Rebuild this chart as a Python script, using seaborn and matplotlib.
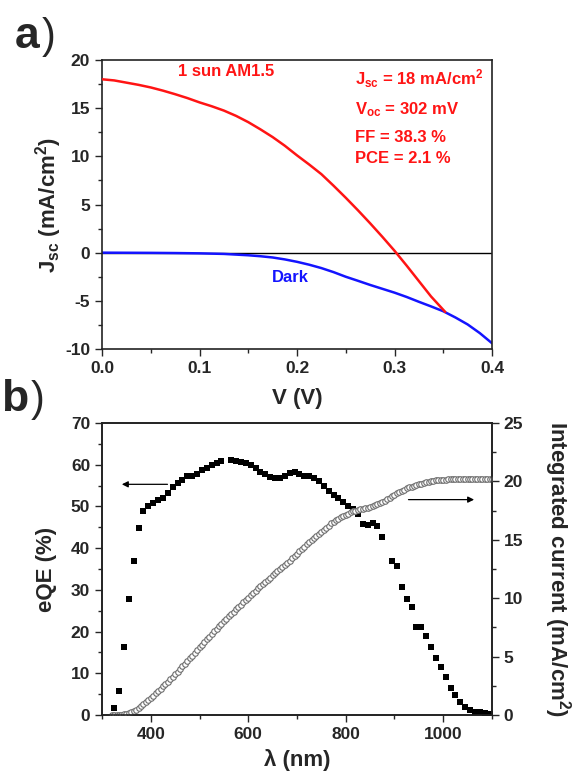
import numpy as np
import pandas as pd
import matplotlib
matplotlib.use("Agg")
import matplotlib.pyplot as plt
import seaborn as sns
from matplotlib.ticker import MultipleLocator, FormatStrFormatter

# ---------------- data ----------------
v_light = [0.0, 0.0125, 0.025, 0.0375, 0.05, 0.0625, 0.075, 0.0875, 0.1, 0.1125, 0.125, 0.1375,
           0.15, 0.1625, 0.175, 0.1875, 0.2, 0.2125, 0.225, 0.2375, 0.25, 0.2625, 0.275, 0.2875,
           0.3, 0.3125, 0.325, 0.3375, 0.352]
j_light = [18.0, 17.88, 17.65, 17.42, 17.15, 16.82, 16.45, 16.05, 15.6, 15.2, 14.75, 14.2,
           13.55, 12.8, 12.0, 11.1, 10.1, 9.15, 8.15, 6.95, 5.7, 4.4, 3.05, 1.65,
           0.2, -1.35, -2.95, -4.55, -6.15]

v_dark = [0.0, 0.025, 0.05, 0.075, 0.1, 0.125, 0.15, 0.1625, 0.175, 0.1875, 0.2, 0.2125, 0.225,
          0.2375, 0.25, 0.2625, 0.275, 0.2875, 0.3, 0.3125, 0.325, 0.3375, 0.35, 0.3625, 0.375,
          0.3875, 0.4]
j_dark = [0.0, -0.01, -0.02, -0.04, -0.07, -0.13, -0.27, -0.37, -0.5, -0.7, -0.95, -1.25, -1.6,
          -2.02, -2.5, -2.92, -3.35, -3.75, -4.15, -4.6, -5.1, -5.58, -6.08, -6.73, -7.45,
          -8.35, -9.4]

wl_eqe = [325, 335, 345, 355, 365, 375, 385, 395, 405, 415, 425, 435, 445, 455, 465, 475, 485, 495,
          505, 515, 525, 535, 545,
          565, 575, 585, 595, 605, 615, 625, 635, 645, 655, 665, 675, 685, 695, 705, 715, 725, 735,
          745, 755, 765, 775, 785, 795, 805, 815, 825, 835, 845, 855, 865, 875,
          895, 905, 915, 925, 935, 945, 955, 965, 975, 985, 995, 1005, 1015, 1025, 1035, 1045, 1055,
          1065, 1075, 1085, 1095]
eqe = [1.6, 5.7, 16.3, 27.9, 37.0, 44.9, 48.8, 50.2, 50.8, 51.6, 52.0, 53.1, 54.6, 55.6, 56.4, 57.2, 57.2, 57.7,
       58.7, 59.3, 60.0, 60.4, 60.8,
       61.1, 60.9, 60.7, 60.4, 59.9, 59.1, 58.3, 57.7, 57.0, 56.9, 56.9, 57.4, 58.0, 58.3, 57.8, 57.2, 57.2, 56.8,
       56.0, 55.0, 53.8, 52.8, 52.0, 51.0, 50.2, 49.4, 48.3, 45.7, 45.6, 46.1, 45.3, 42.7,
       36.8, 35.6, 30.8, 27.8, 25.9, 21.0, 21.0, 19.0, 16.4, 13.6, 11.6, 9.1, 6.5, 4.9, 3.2, 1.9, 1.2,
       0.8, 0.6, 0.4, 0.2]

wl_int = [320, 325, 330, 335, 340, 345, 350, 355, 360, 365, 370, 375, 380, 385, 390, 395,
          400, 405, 410, 415, 420, 425, 430, 435, 440, 445, 450, 455, 460, 465, 470, 475,
          480, 485, 490, 495, 500, 505, 510, 515, 520, 525, 530, 535, 540, 545, 550, 555,
          560, 565, 570, 575, 580, 585, 590, 595, 600, 605, 610, 615, 620, 625, 630, 635,
          640, 645, 650, 655, 660, 665, 670, 675, 680, 685, 690, 695, 700, 705, 710, 715,
          720, 725, 730, 735, 740, 745, 750, 755, 760, 765, 770, 775, 780, 785, 790, 795,
          800, 805, 810, 815, 820, 825, 830, 835, 840, 845, 850, 855, 860, 865, 870, 875,
          880, 885, 890, 895, 900, 905, 910, 915, 920, 925, 930, 935, 940, 945, 950, 955,
          960, 965, 970, 975, 980, 985, 990, 995, 1000, 1005, 1010, 1015, 1020, 1025, 1030, 1035,
          1040, 1045, 1050, 1055, 1060, 1065, 1070, 1075, 1080, 1085, 1090, 1095, 1100]
int_cur = [0.0, 0.0, 0.0, 0.01, 0.02, 0.05, 0.1, 0.17, 0.25, 0.34, 0.45, 0.6, 0.75, 0.92, 1.1, 1.27,
           1.45, 1.65, 1.85, 2.05, 2.25, 2.45, 2.65, 2.85, 3.05, 3.27, 3.5, 3.72, 3.95, 4.17, 4.4, 4.62,
           4.85, 5.07, 5.3, 5.55, 5.8, 6.02, 6.25, 6.47, 6.7, 6.92, 7.15, 7.37, 7.6, 7.82, 8.05, 8.25,
           8.45, 8.65, 8.85, 9.05, 9.25, 9.45, 9.65, 9.85, 10.05, 10.25, 10.45, 10.65, 10.85, 11.05, 11.25, 11.42,
           11.6, 11.77, 11.95, 12.12, 12.3, 12.47, 12.65, 12.82, 13.0, 13.2, 13.4, 13.6, 13.8, 14.0, 14.2, 14.4,
           14.6, 14.8, 15.0, 15.17, 15.35, 15.52, 15.7, 15.87, 16.05, 16.22, 16.4, 16.55, 16.7, 16.82, 16.95, 17.05,
           17.15, 17.25, 17.35, 17.43, 17.5, 17.55, 17.6, 17.65, 17.7, 17.75, 17.8, 17.87, 17.95, 18.05, 18.15, 18.25,
           18.35, 18.47, 18.6, 18.72, 18.85, 18.97, 19.1, 19.2, 19.3, 19.4, 19.5, 19.55, 19.6, 19.67, 19.75, 19.82,
           19.88, 19.93, 19.98, 20.02, 20.05, 20.08, 20.1, 20.12, 20.14, 20.16, 20.18, 20.19, 20.2, 20.2, 20.2, 20.2,
           20.2, 20.2, 20.2, 20.2, 20.2, 20.2, 20.2, 20.2, 20.2, 20.2, 20.2, 20.2, 20.2]

stats_lines = ["J$_{\\rm sc}$ = 18 mA/cm$^{\\rm 2}$", "V$_{\\rm oc}$ = 302 mV", "FF = 38.3 %", "PCE = 2.1 %"]
stats_y = [17.4, 14.4, 11.5, 9.3]

# ---------------- style ----------------
sns.set_style("ticks")
FONT = ["Liberation Sans", "DejaVu Sans"]
plt.rcParams["font.family"] = FONT
plt.rcParams["font.weight"] = "bold"
plt.rcParams["axes.labelweight"] = "bold"
plt.rcParams["mathtext.fontset"] = "custom"
plt.rcParams["mathtext.rm"] = "Liberation Sans:bold"
plt.rcParams["mathtext.bf"] = "Liberation Sans:bold"
plt.rcParams["mathtext.it"] = "Liberation Sans:bold"
plt.rcParams["axes.linewidth"] = 1.2
plt.rcParams["axes.edgecolor"] = "#222222"

RED = "#ff1414"
BLUE = "#1414ff"
TICK_FS = 12.5
LAB_FS = 16

fig = plt.figure(figsize=(5.75, 7.74), dpi=100)
W, H = 575, 774

def px_axes(l, t, r, b):
    return fig.add_axes([l / W, 1 - b / H, (r - l) / W, (b - t) / H])

def style_ticks(ax, left=True, right=False):
    ax.tick_params(which="both", direction="out", width=1.0, labelsize=TICK_FS,
                   top=False, right=right, left=left, labelleft=left, labelright=right)
    ax.tick_params(which="major", length=5)
    ax.tick_params(which="minor", length=3)
    for lab in ax.get_xticklabels() + ax.get_yticklabels():
        lab.set_fontweight("bold")

# ---------------- panel a ----------------
ax1 = px_axes(102, 60, 492, 349)
df_dark = pd.DataFrame({"V": v_dark, "J": j_dark})
df_light = pd.DataFrame({"V": v_light, "J": j_light})
ax1.axhline(0, color="black", lw=1.0, zorder=1)
sns.lineplot(data=df_dark, x="V", y="J", ax=ax1, color=BLUE, lw=1.8, sort=False, zorder=2)
sns.lineplot(data=df_light, x="V", y="J", ax=ax1, color=RED, lw=1.8, sort=False, zorder=3)
ax1.set_xlim(0, 0.4)
ax1.set_ylim(-10, 20)
ax1.xaxis.set_major_locator(MultipleLocator(0.1))
ax1.xaxis.set_minor_locator(MultipleLocator(0.05))
ax1.yaxis.set_major_locator(MultipleLocator(5))
ax1.yaxis.set_minor_locator(MultipleLocator(2.5))
ax1.xaxis.set_major_formatter(FormatStrFormatter("%.1f"))
ax1.yaxis.set_major_formatter(FormatStrFormatter("%d"))
style_ticks(ax1)
ax1.set_xlabel("V (V)", fontsize=LAB_FS, fontweight="bold", labelpad=9)
ax1.set_ylabel("J$_{\\rm sc}$ (mA/cm$^{\\rm 2}$)", fontsize=LAB_FS, fontweight="bold", labelpad=1)

ax1.text(0.127, 18.8, "1 sun AM1.5", color=RED, fontsize=12, fontweight="bold",
         ha="center", va="center")
ax1.text(0.193, -2.6, "Dark", color=BLUE, fontsize=12, fontweight="bold",
         ha="center", va="center")
for txt, yv in zip(stats_lines, stats_y):
    ax1.text(0.2595, yv, txt, color=RED, fontsize=12, fontweight="bold",
             ha="left", va="baseline")

# ---------------- panel b ----------------
ax2 = px_axes(102, 423, 492, 715)
df_eqe = pd.DataFrame({"wl": wl_eqe, "eqe": eqe})
df_int = pd.DataFrame({"wl": wl_int, "cur": int_cur})
sns.scatterplot(data=df_eqe, x="wl", y="eqe", ax=ax2, marker="s", color="black",
                s=22, linewidth=0, zorder=3)
ax2.set_xlim(300, 1100)
ax2.set_ylim(0, 70)
ax2.xaxis.set_major_locator(MultipleLocator(200))
ax2.xaxis.set_minor_locator(MultipleLocator(100))
ax2.yaxis.set_major_locator(MultipleLocator(10))
ax2.yaxis.set_minor_locator(MultipleLocator(5))
style_ticks(ax2)
ax2.set_xlabel("λ (nm)", fontsize=LAB_FS, fontweight="bold", labelpad=5)
ax2.set_ylabel("eQE (%)", fontsize=LAB_FS, fontweight="bold", labelpad=10)

ax3 = ax2.twinx()
sns.scatterplot(data=df_int, x="wl", y="cur", ax=ax3, marker="o", facecolor="white",
                edgecolor="#6e6e6e", s=16, linewidth=0.8, zorder=2)
ax3.set_ylim(0, 25)
ax3.yaxis.set_major_locator(MultipleLocator(5))
ax3.yaxis.set_minor_locator(MultipleLocator(2.5))
style_ticks(ax3, left=False, right=True)
ax3.set_ylabel("Integrated current (mA/cm$^{\\rm 2}$)", fontsize=LAB_FS, fontweight="bold",
               rotation=270, labelpad=36)
for sp in ax3.spines.values():
    sp.set_linewidth(1.2)

ax2.annotate("", xy=(335, 55.3), xytext=(440, 55.3),
             arrowprops=dict(arrowstyle="-|>", color="black", lw=0.9, mutation_scale=9))
ax3.annotate("", xy=(1069, 18.44), xytext=(923, 18.44),
             arrowprops=dict(arrowstyle="-|>", color="black", lw=0.9, mutation_scale=9))

# panel labels
fig.text(15 / W, 1 - 48 / H, "a", fontsize=32, fontweight="bold", ha="left", va="baseline")
fig.text(42 / W, 1 - 48 / H, ")", fontsize=30, fontweight="normal", ha="left", va="baseline")
fig.text(1 / W, 1 - 411 / H, "b", fontsize=32, fontweight="bold", ha="left", va="baseline")
fig.text(31 / W, 1 - 411 / H, ")", fontsize=30, fontweight="normal", ha="left", va="baseline")

fig.savefig("out.png", dpi=100)
